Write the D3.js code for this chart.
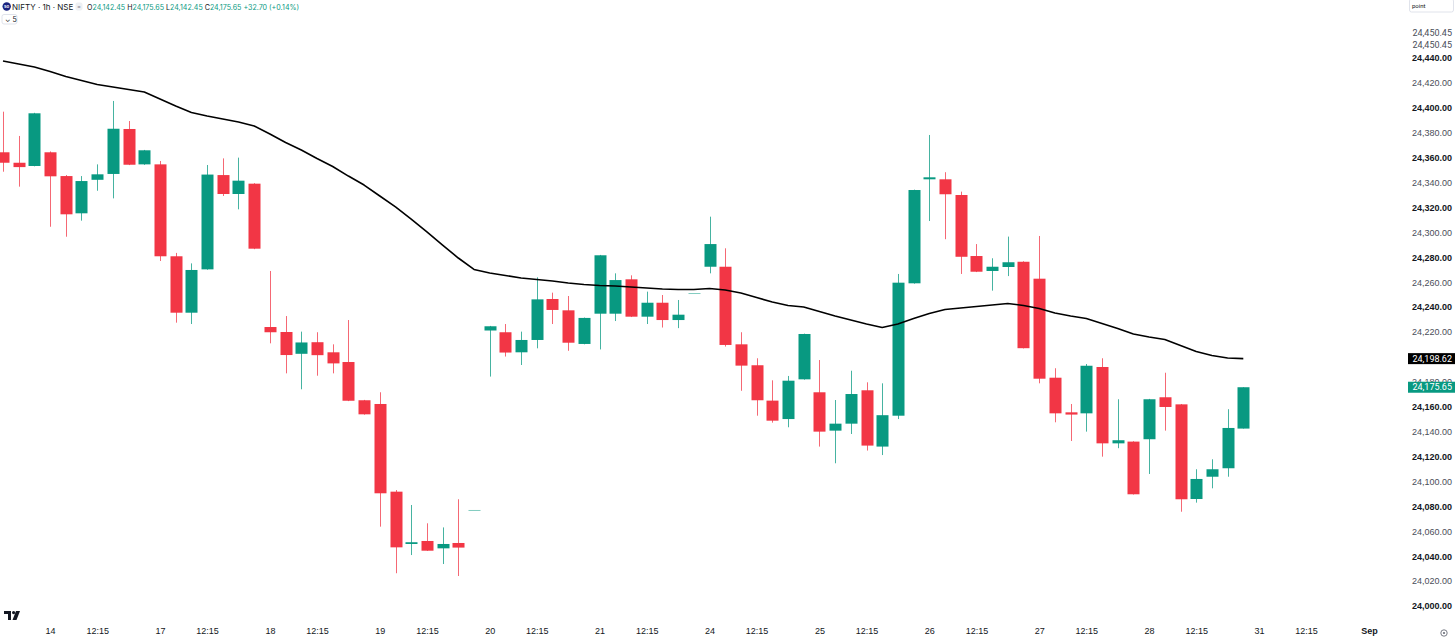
<!DOCTYPE html>
<html>
<head>
<meta charset="utf-8">
<script src="https://cdn.jsdelivr.net/npm/d3@7"></script>
<style>
  body { margin: 0; background: #ffffff; }
  #graphic { width: 1456px; height: 643px; }
</style>
</head>
<body>
<div id="graphic"></div>
<script>
const sessions = ["13", "14", "17", "18", "19", "20", "21", "24", "25", "26", "27", "28", "31", "Sep"];
const hours = ["09:15", "10:15", "11:15", "12:15", "13:15", "14:15", "15:15"];

const opens = [24364.3, 24355.9, 24353.3, 24364.3, 24345.2, 24315.3, 24342.2, 24346.9, 24383.0, 24354.6,
    24354.6, 24280.8, 24235.5, 24270.3, 24346.0, 24330.8, 24339.1, 24224.0, 24220.0, 24202.5,
    24211.8, 24203.7, 24195.9, 24165.2, 24162.2, 24091.8, 24049.8, 24052.2, 24046.3, 24050.6,
    24077.1, 24221.2, 24219.8, 24203.7, 24213.6, 24246.5, 24237.4, 24210.4, 24234.7, 24234.7,
    24262.3, 24232.3, 24243.5, 24229.6, 24251.3, 24272.4, 24272.4, 24210.1, 24193.3, 24164.9,
    24150.1, 24182.0, 24171.6, 24140.8, 24146.4, 24173.2, 24128.0, 24152.8, 24259.1, 24342.6,
    24342.6, 24330.0, 24281.0, 24269.0, 24272.2, 24276.4, 24262.8, 24183.3, 24155.5, 24154.7,
    24191.9, 24130.6, 24132.0, 24133.9, 24167.6, 24161.9, 24085.9, 24103.8, 24110.6, 24142.45];
const highs = [24396.9, 24377.4, 24396.0, 24365.0, 24346.0, 24345.2, 24354.6, 24405.5, 24389.4, 24366.2,
    24357.3, 24283.5, 24275.1, 24354.1, 24359.4, 24360.0, 24339.5, 24269.0, 24232.8, 24220.3,
    24219.8, 24210.1, 24229.6, 24165.5, 24171.6, 24093.1, 24081.1, 24066.4, 24063.1, 24085.7,
    24077.1, 24224.9, 24226.4, 24220.3, 24263.9, 24251.6, 24248.9, 24231.6, 24281.9, 24267.1,
    24265.5, 24252.4, 24249.7, 24245.7, 24251.3, 24312.6, 24287.2, 24219.8, 24198.9, 24181.2,
    24184.7, 24218.7, 24197.5, 24165.4, 24188.9, 24179.6, 24178.8, 24266.6, 24334.3, 24378.2,
    24348.3, 24332.7, 24290.6, 24279.2, 24296.6, 24276.8, 24297.1, 24190.9, 24162.2, 24194.3,
    24198.9, 24166.0, 24132.3, 24166.3, 24187.3, 24162.2, 24109.8, 24117.8, 24158.0, 24175.65];
const lows = [24348.7, 24336.7, 24353.0, 24304.5, 24296.5, 24309.4, 24333.4, 24327.3, 24354.0, 24354.2,
    24277.0, 24227.5, 24226.4, 24270.0, 24329.2, 24318.5, 24286.5, 24210.9, 24186.8, 24174.0,
    24184.9, 24186.8, 24164.5, 24153.6, 24063.7, 24026.3, 24040.9, 24044.2, 24033.7, 24024.1,
    24077.1, 24184.2, 24200.3, 24193.5, 24206.9, 24226.4, 24204.9, 24210.1, 24206.0, 24228.8,
    24232.0, 24226.4, 24223.6, 24223.1, 24251.3, 24267.1, 24208.3, 24172.8, 24152.8, 24147.2,
    24143.5, 24181.7, 24128.0, 24114.6, 24138.1, 24124.8, 24121.2, 24150.1, 24258.8, 24309.1,
    24294.5, 24266.6, 24268.1, 24253.2, 24264.9, 24206.8, 24178.8, 24147.5, 24132.5, 24140.0,
    24119.9, 24126.7, 24089.5, 24106.0, 24140.8, 24075.7, 24083.0, 24094.5, 24103.8, 24142.45];
const closes = [24355.9, 24352.4, 24395.6, 24345.0, 24314.5, 24341.2, 24346.6, 24383.2, 24354.3, 24365.9,
    24280.8, 24235.5, 24269.8, 24346.4, 24330.8, 24341.5, 24286.9, 24219.8, 24201.5, 24211.6,
    24201.4, 24194.8, 24164.8, 24153.9, 24090.5, 24047.1, 24051.2, 24044.4, 24049.8, 24046.9,
    24077.1, 24224.6, 24203.5, 24213.6, 24246.2, 24237.7, 24211.4, 24231.3, 24281.6, 24261.7,
    24232.3, 24243.5, 24229.6, 24233.9, 24251.3, 24290.6, 24209.6, 24193.0, 24165.2, 24148.8,
    24180.9, 24218.4, 24140.0, 24146.4, 24170.2, 24128.8, 24153.2, 24259.6, 24334.0, 24344.2,
    24330.6, 24280.4, 24268.4, 24272.4, 24276.0, 24207.0, 24182.5, 24154.7, 24153.7, 24192.9,
    24130.6, 24133.1, 24089.7, 24166.0, 24159.8, 24085.7, 24102.0, 24109.8, 24142.95, 24175.65];

const maValues = [24437.6, 24435.2, 24432.8, 24429.1, 24425.1, 24421.9, 24418.7, 24416.7, 24414.7, 24412.7,
    24407.1, 24401.4, 24396.2, 24393.4, 24391.0, 24388.6, 24385.4, 24379.0, 24372.1, 24366.1,
    24359.3, 24352.9, 24345.2, 24338.0, 24329.2, 24320.4, 24310.7, 24300.3, 24289.8, 24279.4,
    24270.2, 24267.4, 24265.4, 24263.3, 24262.1, 24260.9, 24259.3, 24258.1, 24257.3, 24256.9,
    24256.1, 24255.3, 24254.5, 24254.1, 24254.1, 24254.9, 24253.7, 24251.3, 24247.7, 24244.1,
    24241.3, 24240.1, 24236.5, 24232.8, 24229.6, 24226.4, 24223.6, 24226.4, 24230.8, 24234.8,
    24238.1, 24239.3, 24240.5, 24241.7, 24242.9, 24241.3, 24238.9, 24235.2, 24232.8, 24230.8,
    24226.8, 24222.8, 24218.4, 24216.0, 24214.0, 24209.2, 24204.3, 24201.1, 24199.1, 24198.62];

const priceTicks = [24000, 24020, 24040, 24060, 24080, 24100, 24120, 24140, 24160, 24180, 24200, 24220,
    24240, 24260, 24280, 24300, 24320, 24340, 24360, 24380, 24400, 24420, 24440];
const highMarks = [24450.45, 24450.45];

const bull = "#089981", bear = "#F23645", ink = "#131722";
const width = 1456, height = 643, paneRight = 1396;

const svg = d3.select("#graphic")
    .append("svg")
    .attr("width", width)
    .attr("height", height)
    .style("font-family", "Roboto, 'Noto Sans', sans-serif");

const x = d3.scaleLinear()
    .domain([0, 88])
    .range([3, 3 + 15.7 * 88]);
const y = d3.scaleLinear()
    .domain([24000, 24440])
    .range([606, 58]);
const step = x(1) - x(0);
const bodyW = Math.round(step * 0.76);

svg.append("clipPath").attr("id", "pane")
    .append("rect").attr("x", 0).attr("y", 0).attr("width", paneRight).attr("height", 612);

const pane = svg.append("g").attr("clip-path", "url(#pane)");

const candles = opens.map((o, i) => ({ i, o, h: highs[i], l: lows[i], c: closes[i] }));

pane.append("g")
    .selectAll("line")
    .data(candles)
    .join("line")
    .attr("x1", d => Math.round(x(d.i)) + 0.5)
    .attr("x2", d => Math.round(x(d.i)) + 0.5)
    .attr("y1", d => y(d.h))
    .attr("y2", d => y(d.l))
    .attr("stroke", d => d.c >= d.o ? bull : bear)
    .attr("stroke-opacity", 0.75)
    .attr("stroke-width", 1);

pane.append("g")
    .selectAll("rect")
    .data(candles)
    .join("rect")
    .attr("x", d => Math.round(x(d.i)) + 0.5 - bodyW / 2)
    .attr("y", d => y(Math.max(d.o, d.c)))
    .attr("width", bodyW)
    .attr("height", d => Math.max(1, Math.abs(y(d.o) - y(d.c))))
    .attr("fill", d => d.c >= d.o ? bull : bear)
    .attr("fill-opacity", d => d.h === d.l ? 0.5 : 1);

pane.append("path")
    .datum(maValues)
    .attr("fill", "none")
    .attr("stroke", "#000000")
    .attr("stroke-width", 1.6)
    .attr("stroke-linejoin", "round")
    .attr("d", d3.line().x((d, i) => x(i)).y(d => y(d)));

// time axis: first session only shows its last three bars
const skip = hours.length - 3;
const timeTicks = [];
sessions.forEach((s, k) => {
    if (k === 0) return;
    timeTicks.push({ i: k * hours.length - skip, label: s });
    timeTicks.push({ i: k * hours.length - skip + 3, label: hours[3] });
});
const shown = timeTicks.filter(t => x(t.i) < paneRight - 10);
const tickLabel = new Map(shown.map(t => [t.i, t.label]));

const xAxis = svg.append("g")
    .attr("transform", "translate(0, 628)")
    .call(d3.axisBottom(x).tickValues(shown.map(t => t.i)).tickFormat(i => tickLabel.get(i)).tickSize(0).tickPadding(0));
xAxis.select(".domain").remove();
xAxis.selectAll("text")
    .attr("fill", ink)
    .attr("font-size", "9px")
    .attr("font-weight", i => tickLabel.get(i) === "Sep" ? 700 : 400);

const yAxis = svg.append("g")
    .attr("transform", "translate(1452, 0)")
    .call(d3.axisRight(y).tickValues(priceTicks).tickFormat(d3.format(",.2f")).tickSize(0).tickPadding(0));
yAxis.select(".domain").remove();
yAxis.selectAll("text")
    .attr("text-anchor", "end")
    .attr("font-size", "9px")
    .attr("fill", d => d % 40 === 0 ? ink : "#4a4e59")
    .attr("font-weight", d => d % 40 === 0 ? 700 : 400);

svg.append("g")
    .selectAll("text")
    .data(highMarks)
    .join("text")
    .attr("x", 1452)
    .attr("y", (d, i) => y(d) - (highMarks.length - 1 - i) * 12)
    .attr("dy", "0.32em")
    .attr("text-anchor", "end")
    .attr("font-size", "9px")
    .attr("fill", "#4a4e59")
    .text(d => d3.format(",.2f")(d));

// value badges on the price scale
const badges = [
    { v: maValues[maValues.length - 1], fill: "#000000" },
    { v: closes[closes.length - 1], fill: bull }
];
const badge = svg.append("g")
    .selectAll("g")
    .data(badges)
    .join("g")
    .attr("transform", d => `translate(1408, ${y(d.v)})`);
badge.append("rect")
    .attr("x", 0).attr("y", -5.5)
    .attr("width", 47).attr("height", 11)
    .attr("fill", d => d.fill);
badge.append("text")
    .attr("x", 44).attr("dy", "0.34em")
    .attr("text-anchor", "end")
    .attr("font-size", "9px")
    .attr("fill", "#ffffff")
    .text(d => d3.format(",.2f")(d.v));

// header legend
const last = candles[candles.length - 1];
const prev = closes[closes.length - 2];
const head = svg.append("g").style("font-family", "Inter, Roboto, sans-serif");
head.append("circle").attr("cx", 6.7).attr("cy", 6.5).attr("r", 4.2).attr("fill", "#1a237e");
head.append("text").attr("x", 6.7).attr("y", 8).attr("text-anchor", "middle")
    .attr("font-size", "4px").attr("font-weight", 700).attr("fill", "#ffffff").text("50");
head.append("text").attr("x", 12).attr("y", 10).attr("font-size", "8px").attr("fill", ink)
    .text("NIFTY · 1h · NSE");
head.append("rect").attr("x", 75.5).attr("y", 2.5).attr("width", 7).attr("height", 8).attr("rx", 2)
    .attr("fill", "#eef0f3");
head.append("text").attr("x", 79).attr("y", 8.5).attr("text-anchor", "middle").attr("font-size", "6px")
    .attr("fill", "#7b7f8a").text("=");

const fmt = d3.format(",.2f");
const chg = last.c - prev;
const legend = head.append("text").attr("x", 87).attr("y", 10).attr("font-size", "7.1px");
[["O", last.o], ["H", last.h], ["L", last.l], ["C", last.c]].forEach(([k, v]) => {
    legend.append("tspan").attr("fill", ink).text(k);
    legend.append("tspan").attr("fill", bull).text(fmt(v) + " ");
});
legend.append("tspan").attr("fill", bull)
    .text(`${chg >= 0 ? "+" : ""}${fmt(chg)} (${chg >= 0 ? "+" : ""}${fmt(chg / prev * 100)}%)`);

head.append("rect").attr("x", 2).attr("y", 14.5).attr("width", 15).attr("height", 9.5).attr("rx", 2)
    .attr("fill", "#ffffff").attr("stroke", "#e0e3eb");
head.append("text").attr("x", 5).attr("y", 21.5).attr("font-size", "7px").attr("fill", ink).text("⌄ 5");

// top right scale mode box
svg.append("rect").attr("x", 1409.5).attr("y", -1).attr("width", 44).attr("height", 13).attr("rx", 2)
    .attr("fill", "#ffffff").attr("stroke", "#e0e3eb");
svg.append("text").attr("x", 1412).attr("y", 8).attr("font-size", "6px").attr("fill", ink).text("point");

// logo and settings glyph
const logo = svg.append("g").attr("transform", "translate(4, 611)").attr("fill", ink);
logo.append("path").attr("d", "M0 0 H7 V9 H4 V3 H0 Z");
logo.append("circle").attr("cx", 9.6).attr("cy", 1.6).attr("r", 1.6);
logo.append("path").attr("d", "M12 0 H16 L12.5 9 H8.5 Z");
svg.append("circle").attr("cx", 1444).attr("cy", 633).attr("r", 3.2)
    .attr("fill", "none").attr("stroke", "#6a6d78").attr("stroke-width", 0.9);
svg.append("circle").attr("cx", 1444).attr("cy", 633).attr("r", 1.1).attr("fill", "#6a6d78");
</script>
</body>
</html>
